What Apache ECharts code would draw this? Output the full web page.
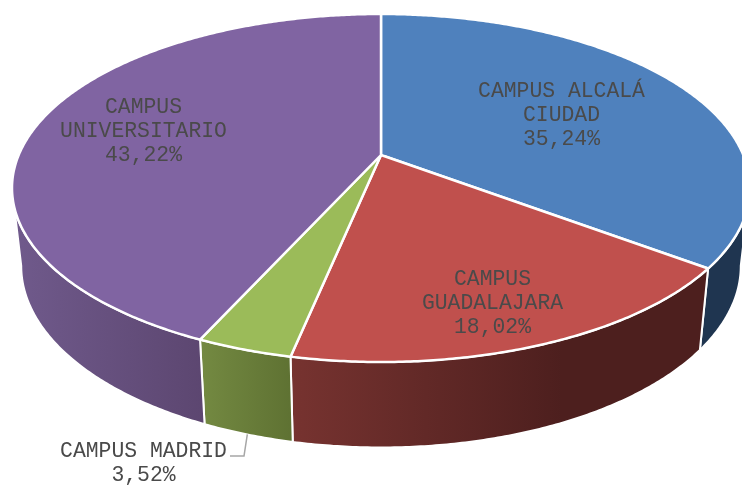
<!DOCTYPE html>
<html><head><meta charset="utf-8">
<style>html,body{margin:0;padding:0;background:#fff;overflow:hidden}#c{width:742px;height:485px}</style>
<script src="https://cdn.jsdelivr.net/npm/echarts@6/dist/echarts.min.js"></script>
</head><body><div id="c"></div>
<script>
// Data
const categories = ['CAMPUS ALCALÁ\nCIUDAD', 'CAMPUS\nGUADALAJARA', 'CAMPUS MADRID', 'CAMPUS\nUNIVERSITARIO'];
const shares = [35.24, 18.02, 3.52, 43.22];

// Styles
const topColors = ['#4f81bd', '#c0504d', '#9bbb59', '#8064a2'];
const wallLeft  = ['#1f3550', '#773330', '#748a42', '#705a8c'];
const wallRight = ['#1f3550', '#4d1f1e', '#5e7132', '#5c4670'];
const wallStop  = [1, 0.65, 1, 1];
const labelPos = [[561.5, 115.5], [492.5, 303.5], [143.5, 463.5], [143.5, 131.5]];

// Perspective model of the tilted disc
const CX = 381, AY = 155, R = 362.3, K = 167.74, C = 0.18966;
const WALL_AY = 231.5, WALL_SX = 0.975, WALL_K = 175;
const EDGE_ANGLE = Math.acos(-C) * 180 / Math.PI;
function project(deg, wall) {
  const a = deg * Math.PI / 180, u = Math.sin(a), v = Math.cos(a), w = 1 + C * v;
  if (wall) return [CX + WALL_SX * R * u / w, WALL_AY - WALL_K * v / w];
  return [CX + R * u / w, AY - K * v / w];
}
function arc(a0, a1, wall) {
  const pts = [], n = Math.max(2, Math.ceil(Math.abs(a1 - a0) / 0.5));
  for (let i = 0; i <= n; i++) pts.push(project(a0 + (a1 - a0) * i / n, wall));
  return pts;
}
const total = shares.reduce((a, b) => a + b, 0);
function renderItem(params, api) {
  const idx = params.dataIndex;
  let before = 0;
  for (let i = 0; i < idx; i++) before += shares[i];
  const value = api.value(0);
  const a0 = before / total * 360, a1 = (before + value) / total * 360;
  const children = [];
  // side wall (visible front part only)
  const w0 = Math.max(a0, EDGE_ANGLE), w1 = Math.min(a1, 360 - EDGE_ANGLE);
  if (w1 > w0) {
    const pts = arc(w0, w1, false).concat(arc(w1, w0, true));
    children.push({
      type: 'polygon', z2: 1, shape: { points: pts },
      style: {
        fill: new echarts.graphic.LinearGradient(0, 0, 1, 0, [
          { offset: 0, color: wallLeft[idx] },
          { offset: wallStop[idx], color: wallRight[idx] },
          { offset: 1, color: wallRight[idx] }
        ]),
        stroke: '#fff', lineWidth: 2, lineJoin: 'round'
      }
    });
  }
  // top face
  children.push({
    type: 'polygon', z2: 2,
    shape: { points: [[CX, AY]].concat(arc(a0, a1, false)) },
    style: { fill: topColors[idx], stroke: '#fff', lineWidth: 2.5, lineJoin: 'round' }
  });
  // label
  const pos = labelPos[idx];
  children.push({
    type: 'text', z2: 4,
    style: {
      x: pos[0], y: pos[1],
      text: categories[idx] + '\n' + value.toFixed(2).replace('.', ',') + '%',
      font: '21.4px "Liberation Mono"', fill: '#4a4a4a',
      align: 'center', verticalAlign: 'middle', lineHeight: 24
    }
  });
  // leader line for the outside label
  if (categories[idx] === 'CAMPUS MADRID') {
    const base = project((a0 + a1) / 2, true);
    children.push({
      type: 'polyline', z2: 3,
      shape: { points: [base, [244, 456], [230, 456]] },
      style: { stroke: '#a6a6a6', lineWidth: 1.5, fill: null }
    });
  }
  return { type: 'group', children };
}
const chart = echarts.init(document.getElementById('c'), null, { renderer: 'canvas' });
chart.setOption({
  animation: false,
  backgroundColor: '#fff',
  series: [{
    type: 'custom', coordinateSystem: 'none', renderItem,
    data: shares.map((s, i) => ({ name: categories[i], value: [s] }))
  }]
});
</script></body></html>
